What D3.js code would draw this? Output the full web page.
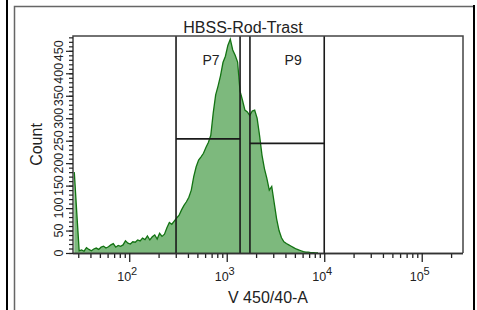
<!DOCTYPE html>
<html>
<head>
<meta charset="utf-8">
<script src="https://cdn.jsdelivr.net/npm/d3@7"></script>
<style>
  body { margin: 0; background: #fff; }
  svg { display: block; font-family: "Liberation Sans", Arial, sans-serif; }
</style>
</head>
<body>
<div id="wrapper"></div>
<script>
// histogram bins: log10 start of first bin and bin width (decades)
const binLog10Start = 1.424
const binLog10Width = 0.025
const counts = [
  180, 91, 5, 7, 4, 12, 8, 5, 9, 11,
  8, 13, 15, 11, 14, 18, 21, 13, 17, 15,
  18, 27, 22, 20, 25, 24, 29, 27, 33, 30,
  38, 29, 36, 40, 31, 44, 37, 42, 56, 68,
  64, 71, 78, 84, 96, 106, 114, 124, 140, 170,
  192, 207, 214, 222, 235, 246, 262, 312, 352, 372,
  395, 424, 438, 462, 476, 452, 440, 425, 360, 340,
  318, 314, 306, 316, 318, 300, 262, 218, 188, 166,
  140, 148, 112, 76, 50, 34, 25, 21, 18, 15,
  12, 9, 7, 5, 3, 2, 2, 1, 1, 0,
  0,
]

// gates
const gateNames = ["P7", "P9"]
const gateLo = [302, 1730]
const gateHi = [1370, 10000]
const gateLevel = [254, 244]
const gateLabelAt = [690, 4800]

// axes
const xDomain = [26.5, 265000]
const yDomain = [0, 483]
const xMajorTicks = [100, 1000, 10000, 100000]
const xMajorExp = ["2", "3", "4", "5"]
const xMinorTicks = [30, 40, 50, 60, 70, 80, 90, 200, 300, 400, 500, 600, 700, 800, 900,
  2000, 3000, 4000, 5000, 6000, 7000, 8000, 9000,
  20000, 30000, 40000, 50000, 60000, 70000, 80000, 90000, 200000]
const yMajorTicks = [0, 50, 100, 150, 200, 250, 300, 350, 400, 450]
const yMinorTicks = d3.range(0, 481, 10)

const title = "HBSS-Rod-Trast"
const xLabel = "V 450/40-A"
const yLabel = "Count"

const dimensions = {
  width: 477,
  height: 310,
  margin: { top: 36, right: 14, bottom: 57, left: 73 },
}
dimensions.boundedWidth = dimensions.width - dimensions.margin.left - dimensions.margin.right
dimensions.boundedHeight = dimensions.height - dimensions.margin.top - dimensions.margin.bottom

const wrapper = d3.select("#wrapper")
  .append("svg")
    .attr("width", dimensions.width)
    .attr("height", dimensions.height)

// window frame
wrapper.append("line")
    .attr("x1", 7).attr("x2", 7).attr("y1", 0).attr("y2", 310)
    .attr("stroke", "#000").attr("stroke-width", 2)
wrapper.append("path")
    .attr("d", "M14.5,310 V6.5 H474")
    .attr("fill", "none").attr("stroke", "#666").attr("stroke-width", 1.5)
wrapper.append("line")
    .attr("x1", 474).attr("x2", 474).attr("y1", 5).attr("y2", 310)
    .attr("stroke", "#000").attr("stroke-width", 2)

const bounds = wrapper.append("g")
    .attr("transform", `translate(${dimensions.margin.left}, ${dimensions.margin.top})`)

const xScale = d3.scaleLog()
  .domain(xDomain)
  .range([0, dimensions.boundedWidth])

const yScale = d3.scaleLinear()
  .domain(yDomain)
  .range([dimensions.boundedHeight, 0])

const bins = counts.map((c, i) => ({
  x: Math.pow(10, binLog10Start + (i + 0.5) * binLog10Width),
  count: c,
}))

bounds.append("clipPath")
    .attr("id", "clip")
  .append("rect")
    .attr("width", dimensions.boundedWidth)
    .attr("height", dimensions.boundedHeight)

const areaGenerator = d3.area()
  .x(d => xScale(d.x))
  .y0(yScale(0))
  .y1(d => yScale(d.count))

const lineGenerator = d3.line()
  .x(d => xScale(d.x))
  .y(d => yScale(d.count))

const hist = bounds.append("g").attr("clip-path", "url(#clip)")
hist.append("path")
    .attr("d", areaGenerator(bins))
    .attr("fill", "#7db97d")
hist.append("path")
    .attr("d", lineGenerator(bins))
    .attr("fill", "none")
    .attr("stroke", "#137313")
    .attr("stroke-width", 1.3)

// gates
gateNames.forEach((name, i) => {
  const x0 = xScale(gateLo[i])
  const x1 = xScale(gateHi[i])
  const y = yScale(gateLevel[i])
  const g = bounds.append("g")
      .attr("stroke", "#1a1a1a")
      .attr("stroke-width", 1.6)
  g.append("line").attr("x1", x0).attr("x2", x0).attr("y1", 0).attr("y2", dimensions.boundedHeight)
  g.append("line").attr("x1", x1).attr("x2", x1).attr("y1", 0).attr("y2", dimensions.boundedHeight)
  g.append("line").attr("x1", x0).attr("x2", x1).attr("y1", y).attr("y2", y)
  bounds.append("text")
      .attr("x", xScale(gateLabelAt[i]))
      .attr("y", 29)
      .attr("text-anchor", "middle")
      .style("font-size", "14px")
      .attr("fill", "#222")
      .text(name)
})

// plot frame
bounds.append("path")
    .attr("d", `M0,${dimensions.boundedHeight} V0 H${dimensions.boundedWidth} V${dimensions.boundedHeight}`)
    .attr("fill", "none").attr("stroke", "#444").attr("stroke-width", 1.5)

// x axis
const xAxis = bounds.append("g")
    .attr("transform", `translate(0, ${dimensions.boundedHeight})`)
xAxis.call(d3.axisBottom(xScale).tickValues(xMinorTicks).tickSize(5).tickFormat(""))
xAxis.append("g")
    .call(d3.axisBottom(xScale).tickValues(xMajorTicks).tickSize(9).tickFormat(""))
xAxis.selectAll(".domain").attr("stroke", "#333").attr("stroke-width", 1.5)
  .attr("d", `M0,0.5H${dimensions.boundedWidth}`)
xAxis.selectAll(".tick line").attr("stroke", "#222").attr("stroke-width", 1.3)

const xTickLabels = xAxis.append("g")
  .selectAll("text")
  .data(xMajorTicks)
  .join("text")
    .attr("x", d => xScale(d) - 2)
    .attr("y", 28)
    .attr("text-anchor", "middle")
    .attr("fill", "#222")
    .style("font-size", "12.5px")
xTickLabels.append("tspan").text("10")
xTickLabels.append("tspan")
    .attr("dy", -6)
    .style("font-size", "11px")
    .text((d, i) => xMajorExp[i])

xAxis.append("text")
    .attr("x", dimensions.boundedWidth / 2)
    .attr("y", 50)
    .attr("text-anchor", "middle")
    .attr("fill", "#222")
    .style("font-size", "16px")
    .text(xLabel)

// y axis
const yAxis = bounds.append("g")
yAxis.call(d3.axisLeft(yScale).tickValues(yMinorTicks).tickSize(4).tickFormat(""))
yAxis.append("g")
    .call(d3.axisLeft(yScale).tickValues(yMajorTicks).tickSize(7).tickFormat(""))
yAxis.selectAll(".domain").remove()
yAxis.selectAll(".tick line").attr("stroke", "#222").attr("stroke-width", 1.2)

yAxis.append("g")
  .selectAll("text")
  .data(yMajorTicks)
  .join("text")
    .attr("transform", d => `translate(-10, ${yScale(d)}) rotate(-90)`)
    .attr("text-anchor", "middle")
    .attr("fill", "#222")
    .style("font-size", "12.5px")
    .text(d => d)

yAxis.append("text")
    .attr("transform", `translate(-31, ${dimensions.boundedHeight / 2}) rotate(-90)`)
    .attr("text-anchor", "middle")
    .attr("fill", "#222")
    .style("font-size", "16px")
    .text(yLabel)

// title
wrapper.append("text")
    .attr("x", 243)
    .attr("y", 33)
    .attr("text-anchor", "middle")
    .attr("fill", "#222")
    .style("font-size", "16px")
    .text(title)
</script>
</body>
</html>
